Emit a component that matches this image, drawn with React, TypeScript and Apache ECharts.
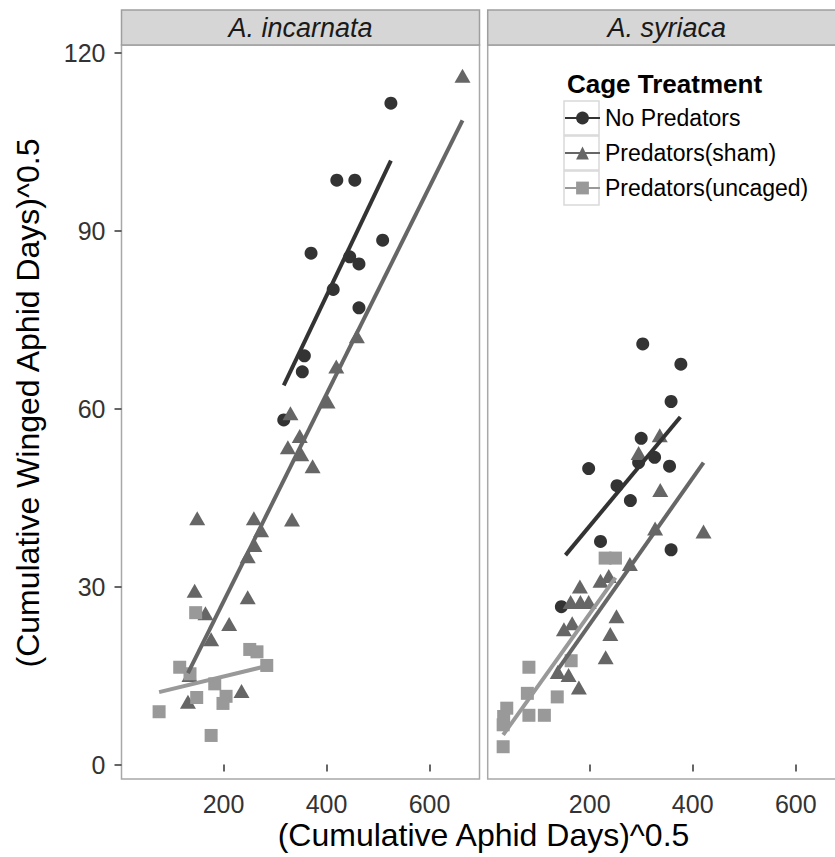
import React, { useEffect, useRef } from 'react';
import * as echarts from 'echarts';

const panelNames = ['A. incarnata', 'A. syriaca'];
const treatments = ['No Predators', 'Predators(sham)', 'Predators(uncaged)'];
const xTicks = [200, 400, 600];
const yTicks = [0, 30, 60, 90, 120];

// A. incarnata
const incNoPred: number[][] = [
  [525, 111.5], [420, 98.5], [455, 98.5], [509, 88.4], [370, 86.2], [445, 85.6],
  [463, 84.4], [413, 80.1], [463, 77.0], [357, 68.9], [353, 66.2], [317, 58.1],
];
const incSham: number[][] = [
  [664, 116.1], [459, 72.2], [419, 67.1], [402, 61.2], [330, 59.2], [348, 55.4],
  [325, 53.5], [351, 52.3], [373, 50.3], [149, 41.5], [259, 41.5], [333, 41.3],
  [273, 39.5], [260, 37.0], [247, 35.1], [144, 29.3], [247, 28.2], [165, 25.5],
  [211, 23.7], [176, 21.1], [134, 15.1], [235, 12.4], [131, 10.6],
];
const incUncaged: number[][] = [
  [146, 25.6], [251, 19.4], [265, 19.0], [284, 16.7], [115, 16.4], [135, 15.3],
  [183, 13.6], [148, 11.3], [205, 11.5], [199, 10.3], [75, 8.9], [176, 4.9],
];
const incFitNoPred: number[][] = [[317, 63.9], [525, 101.8]];
const incFitSham: number[][] = [[131, 15.4], [664, 108.6]];
const incFitUncaged: number[][] = [[75, 12.2], [284, 16.6]];

// A. syriaca
const syrNoPred: number[][] = [
  [303, 70.9], [377, 67.5], [358, 61.2], [300, 55.0], [326, 51.8], [295, 50.9],
  [355, 50.3], [198, 49.9], [253, 47.0], [279, 44.5], [221, 37.6], [358, 36.2],
  [145, 26.6],
];
const syrSham: number[][] = [
  [336, 55.5], [295, 52.5], [337, 46.3], [421, 39.3], [327, 39.8], [278, 33.8],
  [237, 31.8], [221, 31.0], [181, 30.0], [163, 27.4], [182, 27.4], [198, 27.4],
  [252, 25.0], [240, 22.0], [166, 23.8], [150, 22.8], [231, 18.1], [138, 15.6],
  [159, 15.1], [179, 13.0],
];
const syrUncaged: number[][] = [
  [230, 34.8], [250, 34.8], [164, 17.5], [82, 16.4], [79, 12.0], [137, 11.4],
  [82, 8.3], [112, 8.3], [39, 9.5], [33, 8.1], [32, 6.7], [32, 3.0],
];
const syrFitNoPred: number[][] = [[153, 35.3], [376, 58.6]];
const syrFitSham: number[][] = [[138, 16.0], [421, 50.9]];
const syrFitUncaged: number[][] = [[32, 5.0], [250, 31.5]];

const colors = ['#333333', '#666666', '#999999'];
const symbols = ['circle', 'triangle', 'rect'];
const symbolSizes: any[] = [13, [16, 14], 13];

const FONT = '"Liberation Sans", Arial, sans-serif';

const GRID_TOP = 45;
const GRID_H = 734;
const GRID_W = 358;
const LEFT0 = 121.5;
const LEFT1 = 487.7;

export default function App() {
  const ref = useRef<HTMLDivElement>(null);
  useEffect(() => {
    document.body.style.margin = '0';
    if (!ref.current) return;
    const chart = echarts.init(ref.current, undefined, { renderer: 'svg' });

    const fits = [
      [incFitNoPred, incFitSham, incFitUncaged],
      [syrFitNoPred, syrFitSham, syrFitUncaged],
    ];
    const pts = [
      [incNoPred, incSham, incUncaged],
      [syrNoPred, syrSham, syrUncaged],
    ];

    const series: any[] = [];
    for (let p = 0; p < 2; p++) {
      for (let t = 0; t < 3; t++) {
        series.push({
          type: 'line',
          name: treatments[t],
          xAxisIndex: p,
          yAxisIndex: p,
          data: fits[p][t],
          symbol: symbols[t],
          showSymbol: false,
          lineStyle: { color: colors[t], width: 4 },
          itemStyle: { color: colors[t] },
          z: 4,
          silent: true,
        });
      }
    }
    for (let p = 0; p < 2; p++) {
      for (let t = 0; t < 3; t++) {
        series.push({
          type: 'scatter',
          name: treatments[t],
          xAxisIndex: p,
          yAxisIndex: p,
          data: pts[p][t],
          symbol: symbols[t],
          symbolSize: symbolSizes[t],
          itemStyle: { color: colors[t], opacity: 1 },
          z: 3,
        });
      }
    }

    const mkX = (i: number) => ({
      type: 'value',
      gridIndex: i,
      min: 2,
      max: 697,
      axisLine: { show: false },
      splitLine: { show: false },
      axisTick: { show: true, customValues: xTicks, length: 7, lineStyle: { color: '#333', width: 1.5 } },
      axisLabel: { show: true, customValues: xTicks, fontSize: 25, color: '#333', margin: 12, fontFamily: FONT },
    });
    const mkY = (i: number) => ({
      type: 'value',
      gridIndex: i,
      min: -2.44,
      max: 121.3,
      axisLine: { show: false },
      splitLine: { show: false },
      axisTick: { show: i === 0, customValues: yTicks, length: 7, lineStyle: { color: '#333', width: 1.5 } },
      axisLabel: { show: i === 0, customValues: yTicks, fontSize: 25, color: '#333', margin: 16, fontFamily: FONT },
    });

    const boxes = [0, 1, 2].map((i) => ({
      type: 'rect',
      shape: { x: 564, y: 101 + i * 35, width: 35, height: 34 },
      style: { fill: '#ffffff', stroke: '#d9d9d9', lineWidth: 1.5 },
      z: 10,
    }));

    chart.setOption({
      animation: false,
      backgroundColor: '#ffffff',
      grid: [
        { left: LEFT0, top: GRID_TOP, width: GRID_W, height: GRID_H, show: true, borderColor: '#a8a8a8', borderWidth: 1.5, backgroundColor: '#fff', outerBoundsMode: 'none', containLabel: false },
        { left: LEFT1, top: GRID_TOP, width: GRID_W, height: GRID_H, show: true, borderColor: '#a8a8a8', borderWidth: 1.5, backgroundColor: '#fff', outerBoundsMode: 'none', containLabel: false },
      ],
      xAxis: [mkX(0), mkX(1)],
      yAxis: [mkY(0), mkY(1)],
      legend: {
        data: treatments,
        orient: 'vertical',
        left: 564,
        top: 100.5,
        padding: 0,
        itemWidth: 35,
        itemHeight: 16,
        itemGap: 0,
        selectedMode: false,
        z: 20,
        textStyle: { fontSize: 23, color: '#000', fontFamily: FONT, lineHeight: 35 },
      },
      graphic: [
        ...[0, 1].map((p) => ({
          type: 'rect',
          shape: { x: p === 0 ? LEFT0 : LEFT1, y: 10, width: GRID_W, height: 35 },
          style: { fill: '#d6d6d6', stroke: '#9e9e9e', lineWidth: 1.5 },
          z: 5,
        })),
        ...[0, 1].map((p) => ({
          type: 'text',
          x: (p === 0 ? LEFT0 : LEFT1) + GRID_W / 2,
          y: 27.5,
          style: {
            text: panelNames[p],
            font: `italic 27px ${FONT}`,
            fill: '#1a1a1a',
            textAlign: 'center',
            textVerticalAlign: 'middle',
            align: 'center',
            verticalAlign: 'middle',
          },
          z: 6,
        })),
        ...boxes,
        {
          type: 'text',
          x: 567,
          y: 84,
          style: {
            text: 'Cage Treatment',
            font: `bold 26px ${FONT}`,
            fill: '#000',
            textAlign: 'left',
            textVerticalAlign: 'middle',
            align: 'left',
            verticalAlign: 'middle',
          },
          z: 10,
        },
        {
          type: 'text',
          x: 483.5,
          y: 835,
          style: {
            text: '(Cumulative Aphid Days)^0.5',
            font: `32px ${FONT}`,
            fill: '#000',
            textAlign: 'center',
            textVerticalAlign: 'middle',
            align: 'center',
            verticalAlign: 'middle',
          },
          z: 10,
        },
        {
          type: 'text',
          x: 27.5,
          y: 403,
          rotation: Math.PI / 2,
          style: {
            text: '(Cumulative Winged Aphid Days)^0.5',
            font: `32px ${FONT}`,
            fill: '#000',
            textAlign: 'center',
            textVerticalAlign: 'middle',
            align: 'center',
            verticalAlign: 'middle',
          },
          z: 10,
        },
      ],
      series,
    });
    return () => chart.dispose();
  }, []);
  return <div ref={ref} style={{ position: 'absolute', left: 0, top: 0, width: 835, height: 857 }} />;
}
